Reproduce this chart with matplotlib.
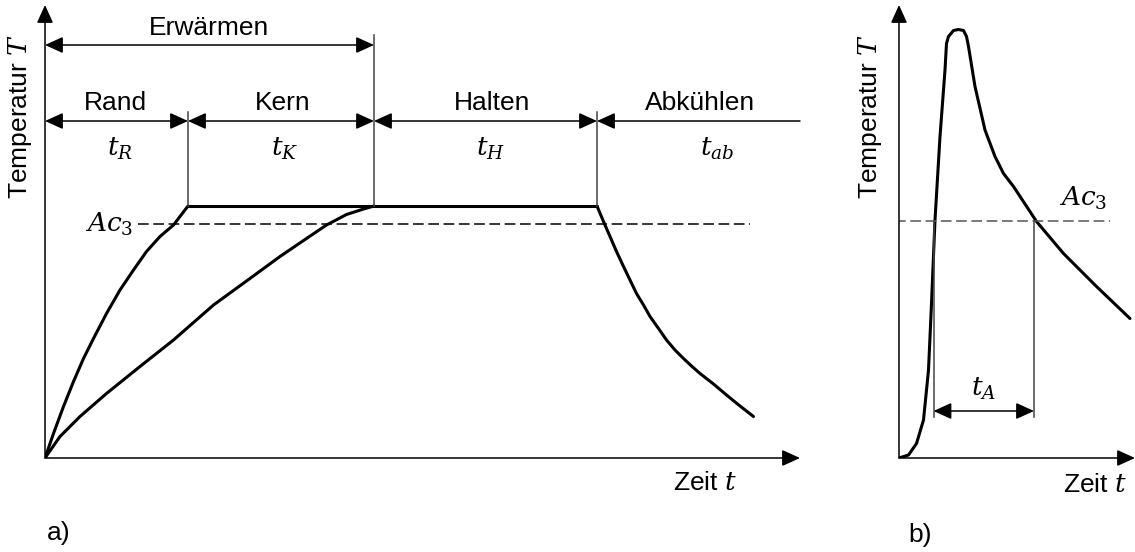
import matplotlib
matplotlib.use("Agg")
import matplotlib.pyplot as plt

plt.rcParams['font.family'] = ['Liberation Sans', 'DejaVu Sans']
plt.rcParams['mathtext.fontset'] = 'dejavuserif'

# --- a) Wärmebehandlung: Erwärmen, Halten, Abkühlen (Zeit / Temperatur in willk. Einheiten)
t_rand = [0, 1.7, 3.7, 5.7, 7.7, 9.7, 12.3, 15.0, 17.7, 20.3, 23.0, 25.7, 28.6]
T_rand = [0, 4.9, 10.3, 15.3, 19.9, 23.9, 28.9, 33.6, 37.6, 41.3, 44.3, 46.6, 50.4]
t_kern = [0, 3.0, 7.0, 12.3, 19.0, 25.7, 33.7, 40.3, 47.0, 52.3, 56.3, 60.3, 63.7, 65.8]
T_kern = [0, 4.3, 8.3, 12.9, 18.3, 23.6, 30.6, 35.4, 40.3, 43.9, 46.6, 48.7, 49.8, 50.4]
t_ab = [110.4, 111.7, 113.0, 114.3, 115.7, 117.0, 118.3, 119.7, 121.0, 122.7,
        124.3, 126.0, 127.7, 129.3, 131.0, 133.7, 136.3, 139.0, 141.7]
T_ab = [50.4, 47.3, 44.3, 41.3, 38.3, 35.6, 32.9, 30.6, 28.3, 25.9,
        23.6, 21.6, 19.9, 18.4, 16.9, 14.8, 12.6, 10.4, 8.3]
T_halten = 50.4
T_ac3_a = 46.8
ac3_range_a = [18.6, 141.0]
# Phasengrenzen: Rand | Kern | Halten | Abkühlen
t_phasen = [0, 28.6, 65.8, 110.4, 151.0]
phasen = ["Rand", "Kern", "Halten", "Abkühlen"]
phasen_t = [r"$t_R$", r"$t_K$", r"$t_H$", r"$t_{ab}$"]
xmax_a, ymax_a = 151.0, 90.6

# --- b) Kurzzeit-Austenitisierung
t_b = [0, 1.9, 3.5, 4.9, 5.9, 6.5, 7.2, 8.2, 9.2, 9.5, 9.9, 10.9, 11.9, 12.9,
       13.5, 13.9, 15.2, 17.2, 19.2, 20.9, 22.9, 27.5, 32.9, 39.5, 46.2]
T_b = [0, 0.6, 2.9, 7.6, 17.6, 30.9, 47.6, 64.3, 77.6, 82.9, 84.3, 85.5, 85.7, 85.5,
       84.3, 82.3, 74.3, 65.6, 60.3, 56.9, 54.3, 47.3, 40.9, 34.3, 27.9]
T_ac3_b = 47.4
ac3_range_b = [-0.8, 42.2]
t_A = [6.9, 27.0]
xmax_b, ymax_b = 47.2, 90.6

W, H = 1135, 552
fig = plt.figure(figsize=(W / 100, H / 100), dpi=100)
ax_a = fig.add_axes([45 / W, 94 / H, 755 / W, 453 / H])
ax_b = fig.add_axes([899 / W, 94 / H, 236 / W, 453 / H])

FS = 19
curve = dict(color='black', lw=2.2, solid_capstyle='round', solid_joinstyle='round')
thin = dict(color='#444444', lw=1.1)
head = '-|>,head_length=0.55,head_width=0.25'
dhead = '<|-|>,head_length=0.55,head_width=0.25'


def arrow(ax, start, end, style=head, color='black'):
    ax.annotate('', xy=end, xytext=start,
                arrowprops=dict(arrowstyle=style, color=color, lw=1.1,
                                shrinkA=0, shrinkB=0, mutation_scale=20),
                annotation_clip=False)


for ax, xm, ym, ylab_x in [(ax_a, xmax_a, ymax_a, -5.0), (ax_b, xmax_b, ymax_b, -5.8)]:
    ax.set_xlim(0, xm)
    ax.set_ylim(0, ym)
    ax.axis('off')
    arrow(ax, (0, 0), (xm, 0))
    arrow(ax, (0, 0), (0, ym))
    ax.text(ylab_x, 68.2, r"Temperatur $T$", rotation=90,
            ha='center', va='center', fontsize=FS)

# a)
ax_a.plot(t_rand, T_rand, **curve)
ax_a.plot(t_kern, T_kern, **curve)
ax_a.plot([t_phasen[1], t_phasen[3]], [T_halten, T_halten], **curve)
ax_a.plot(t_ab, T_ab, **curve)
ax_a.plot(ac3_range_a, [T_ac3_a] * 2, color='black', lw=1.1, ls=(0, (7, 3)))
ax_a.text(ac3_range_a[0] - 1.0, T_ac3_a, r"$Ac_3$", ha='right', va='center', fontsize=FS)

# Maßlinien
ax_a.plot([t_phasen[2]] * 2, [T_halten, 84.6], **thin)
for tp in (t_phasen[1], t_phasen[3]):
    ax_a.plot([tp] * 2, [T_halten, 69.2], **thin)
arrow(ax_a, (t_phasen[0], 82.6), (t_phasen[2], 82.6), style=dhead)
ax_a.text((t_phasen[0] + t_phasen[2]) / 2, 86.0, "Erwärmen", ha='center', va='center', fontsize=FS)
for i in range(3):
    arrow(ax_a, (t_phasen[i], 67.4), (t_phasen[i + 1], 67.4), style=dhead)
arrow(ax_a, (t_phasen[4], 67.4), (t_phasen[3], 67.4))
label_x = [14.0, 47.6, 89.4, 131.0]
sym_x = [15.0, 48.0, 89.2, 134.4]
for lx, sx, name, sym in zip(label_x, sym_x, phasen, phasen_t):
    ax_a.text(lx, 71.0, name, ha='center', va='center', fontsize=FS)
    ax_a.text(sx, 61.8, sym, ha='center', va='center', fontsize=FS)

ax_a.text(132.0, -5.0, r"Zeit $t$", ha='center', va='center', fontsize=FS)
ax_a.text(2.8, -15.0, "a)", ha='center', va='center', fontsize=FS)

# b)
ax_b.plot(t_b, T_b, **curve)
ax_b.plot(ac3_range_b, [T_ac3_b] * 2, color='#555555', lw=1.1, ls=(0, (7, 3)))
ax_b.text(36.8, 52.0, r"$Ac_3$", ha='center', va='center', fontsize=FS)
for tp in t_A:
    ax_b.plot([tp] * 2, [T_ac3_b, 8.2], **thin)
arrow(ax_b, (t_A[0], 9.4), (t_A[1], 9.4), style=dhead)
ax_b.text(sum(t_A) / 2, 13.8, r"$t_A$", ha='center', va='center', fontsize=FS)
ax_b.text(39.2, -5.4, r"Zeit $t$", ha='center', va='center', fontsize=FS)
ax_b.text(4.2, -15.4, "b)", ha='center', va='center', fontsize=FS)

fig.savefig("out.png", dpi=100)
